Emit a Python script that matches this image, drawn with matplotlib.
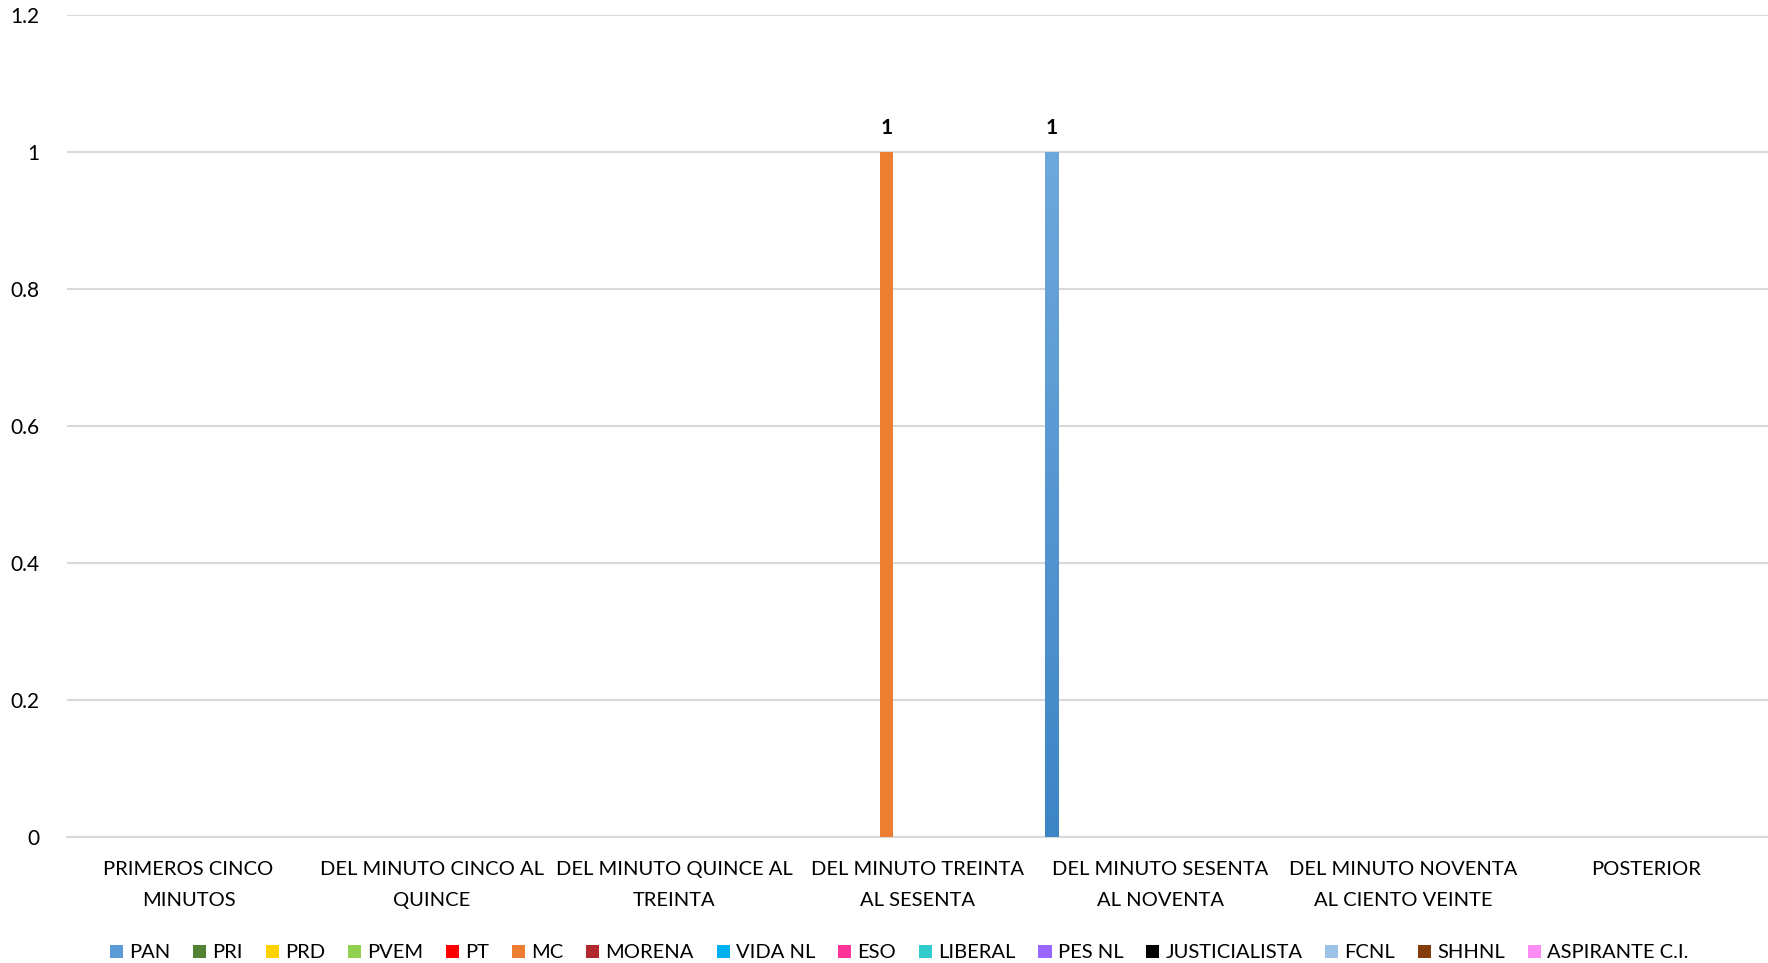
import numpy as np
import matplotlib
matplotlib.use("Agg")
import matplotlib.pyplot as plt
from matplotlib.patches import Patch
from matplotlib.colors import LinearSegmentedColormap

plt.rcParams['font.family'] = ['Lato', 'DejaVu Sans']

categories = ["PRIMEROS CINCO\nMINUTOS", "DEL MINUTO CINCO AL\nQUINCE", "DEL MINUTO QUINCE AL\nTREINTA",
              "DEL MINUTO TREINTA\nAL SESENTA", "DEL MINUTO SESENTA\nAL NOVENTA",
              "DEL MINUTO NOVENTA\nAL CIENTO VEINTE", "POSTERIOR"]
series = ["PAN", "PRI", "PRD", "PVEM", "PT", "MC", "MORENA", "VIDA NL", "ESO", "LIBERAL",
          "PES NL", "JUSTICIALISTA", "FCNL", "SHHNL", "ASPIRANTE C.I."]
colors = ["#5B9BD5", "#548235", "#FFD300", "#92D050", "#FF0000", "#ED7D31", "#B0282D", "#00B0F0",
          "#FF3399", "#33CCCC", "#9966FF", "#000000", "#9DC3E6", "#843C0C", "#FF8BF5"]
values = [
    [0, 0, 0, 0, 1, 0, 0],  # PAN
    [0, 0, 0, 0, 0, 0, 0],  # PRI
    [0, 0, 0, 0, 0, 0, 0],  # PRD
    [0, 0, 0, 0, 0, 0, 0],  # PVEM
    [0, 0, 0, 0, 0, 0, 0],  # PT
    [0, 0, 0, 1, 0, 0, 0],  # MC
    [0, 0, 0, 0, 0, 0, 0],  # MORENA
    [0, 0, 0, 0, 0, 0, 0],  # VIDA NL
    [0, 0, 0, 0, 0, 0, 0],  # ESO
    [0, 0, 0, 0, 0, 0, 0],  # LIBERAL
    [0, 0, 0, 0, 0, 0, 0],  # PES NL
    [0, 0, 0, 0, 0, 0, 0],  # JUSTICIALISTA
    [0, 0, 0, 0, 0, 0, 0],  # FCNL
    [0, 0, 0, 0, 0, 0, 0],  # SHHNL
    [0, 0, 0, 0, 0, 0, 0],  # ASPIRANTE C.I.
]
yticks = [0, 0.2, 0.4, 0.6, 0.8, 1, 1.2]
ytick_labels = ["0", "0.2", "0.4", "0.6", "0.8", "1", "1.2"]

fig = plt.figure(figsize=(17.68, 9.63), dpi=100)
ax = fig.add_axes([0.0379, 0.1308, 0.9621, 0.8536])

n = len(series)
slot = 0.0638
bw = 0.0535
x = np.arange(len(categories))
grad_pan = LinearSegmentedColormap.from_list("pan", ["#3E85C5", "#6FA8DC"])

for i, (name, col, vals) in enumerate(zip(series, colors, values)):
    pos = x + (i - (n - 1) / 2) * slot
    bars = ax.bar(pos, vals, width=bw, color=col, zorder=3, label=name)
    if name == "PAN":
        for b in bars:
            h = b.get_height()
            if h > 0:
                b.set_facecolor("none")
                grad = np.linspace(0, 1, 256).reshape(-1, 1)
                im = ax.imshow(grad, cmap=grad_pan, origin="lower", aspect="auto",
                               extent=[b.get_x(), b.get_x() + b.get_width(), 0, h], zorder=3)
                im.set_clip_path(b)
    for p, v in zip(pos, vals):
        if v > 0:
            ax.text(p, v + 0.021, f"{v:g}", ha="center", va="bottom", fontsize=15,
                    fontweight="bold", color="#000000")

ax.set_xlim(-0.5, len(categories) - 0.5)
ax.set_ylim(0, 1.2)
ax.set_yticks(yticks)
ax.set_yticklabels(ytick_labels)
ax.set_xticks(x)
ax.set_xticklabels(categories, fontsize=14.5, linespacing=1.95)
ax.tick_params(axis="y", labelsize=15, length=0, pad=20)
ax.tick_params(axis="x", length=0, pad=17.5)
for lab in ax.get_yticklabels() + ax.get_xticklabels():
    lab.set_color("#000000")
ax.grid(axis="y", color="#D9D9D9", linewidth=1.5, zorder=0)
ax.set_axisbelow(True)
for s in ["top", "right", "left"]:
    ax.spines[s].set_visible(False)
ax.spines["bottom"].set_color("#D9D9D9")
ax.spines["bottom"].set_linewidth(1.5)

handles = [Patch(facecolor=c, edgecolor="none") for c in colors]
fig.legend(handles, series, loc="center", bbox_to_anchor=(0.5085, 0.0105), ncol=n, frameon=False,
           fontsize=14.5, handlelength=0.65, handleheight=0.65, handletextpad=0.3,
           columnspacing=1.14, borderaxespad=0)

fig.savefig("out.png", dpi=100)
